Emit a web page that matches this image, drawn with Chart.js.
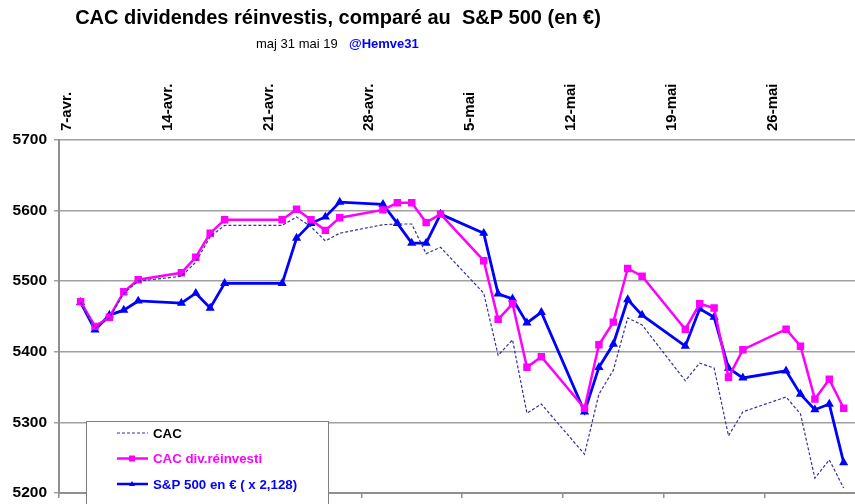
<!DOCTYPE html>
<html>
<head>
<meta charset="utf-8">
<script src="https://cdn.jsdelivr.net/npm/chart.js@4/dist/chart.umd.min.js"></script>
<style>
html,body{margin:0;background:#fff;overflow:hidden;width:855px;height:504px;}
canvas{display:block;}
</style>
</head>
<body>
<canvas id="c" width="862" height="504"></canvas>
<script>
// trading days (19 avr. missing in the sheet)
const dates=['2019-04-08','2019-04-09','2019-04-10','2019-04-11','2019-04-12',
  '2019-04-15','2019-04-16','2019-04-17','2019-04-18','2019-04-22',
  '2019-04-23','2019-04-24','2019-04-25','2019-04-26','2019-04-29',
  '2019-04-30','2019-05-01','2019-05-02','2019-05-03','2019-05-06',
  '2019-05-07','2019-05-08','2019-05-09','2019-05-10','2019-05-13',
  '2019-05-14','2019-05-15','2019-05-16','2019-05-17','2019-05-20',
  '2019-05-21','2019-05-22','2019-05-23','2019-05-24','2019-05-27',
  '2019-05-28','2019-05-29','2019-05-30','2019-05-31'];
const cac=[5470,5433,5448,5483,5500,5507,5527,5563,5579,5579,
  5591,5577,5557,5568,5580,5581,5581,5539,5548,5483,
  5395,5417,5313,5326,5255,5340,5374,5448,5438,5359,
  5384,5377,5281,5315,5336,5312,5221,5247,5207];
const cacDiv=[5471,5436,5449,5485,5502,5512,5534,5568,5587,5587,
  5602,5587,5572,5590,5601,5611,5611,5583,5595,5529,
  5446,5468,5378,5393,5320,5410,5442,5518,5507,5432,
  5468,5462,5364,5403,5432,5408,5333,5361,5320];
const spx=[5470,5431,5452,5459,5472,5469,5483,5462,5497,5497,
  5561,5582,5591,5612,5609,5582,5554,5554,5595,5568,
  5482,5475,5441,5456,5315,5378,5411,5474,5452,5408,
  5461,5449,5377,5363,5373,5340,5318,5326,5243];
const weekLabels=['7-avr.','14-avr.','21-avr.','28-avr.','5-mai','12-mai','19-mai','26-mai'];
const yTicks=[5200,5300,5400,5500,5600,5700];

const start=Date.UTC(2019,3,7);
const dayOf=s=>{const p=s.split('-');return (Date.UTC(+p[0],+p[1]-1,+p[2])-start)/86400000+0.5;};
const pts=vals=>vals.map((v,i)=>({x:dayOf(dates[i]),y:v}));
const weekTicks=weekLabels.map((l,i)=>({value:i*7}));

const FONT='"Liberation Sans", Arial, sans-serif';
const noPad=s=>{s.paddingLeft=0;s.paddingRight=0;s.paddingTop=0;s.paddingBottom=0;};

const deco={
  id:'deco',
  beforeDraw(chart){
    const c=chart.ctx;
    c.save();
    c.fillStyle='#fff';c.fillRect(0,0,chart.width,chart.height);
    c.fillStyle='#000';c.textBaseline='middle';c.textAlign='center';
    c.font='bold 20px '+FONT;
    c.fillText('CAC dividendes réinvestis, comparé au  S&P 500 (en €)',338,18);
    c.textAlign='left';
    c.font='13px '+FONT;
    c.fillText('maj 31 mai 19',256,44);
    c.fillStyle='#0000ff';c.font='bold 13px '+FONT;
    c.fillText('@Hemve31',349,44);
    c.restore();
  },
  afterDraw(chart){
    const c=chart.ctx;
    c.save();
    c.fillStyle='#fff';c.strokeStyle='#808080';c.lineWidth=1;
    c.fillRect(86.5,421.5,242,90);c.strokeRect(86.5,421.5,242,90);
    const items=[
      {t:'CAC',col:'#333399',txt:'#000',dash:[3,2],w:1.2,m:null},
      {t:'CAC div.réinvesti',col:'#ff00ff',txt:'#ff00ff',dash:[],w:2.5,m:'rect'},
      {t:'S&P 500 en € ( x 2,128)',col:'#0000ff',txt:'#0000ff',dash:[],w:2.5,m:'tri'}
    ];
    items.forEach((it,i)=>{
      const y=433+i*25.5;
      c.strokeStyle=it.col;c.lineWidth=it.w;c.setLineDash(it.dash);
      c.beginPath();c.moveTo(117,y);c.lineTo(148,y);c.stroke();
      c.setLineDash([]);c.fillStyle=it.col;
      if(it.m==='rect')c.fillRect(129,y-3,6,6);
      if(it.m==='tri'){c.beginPath();c.moveTo(132,y-3);c.lineTo(135,y+2);c.lineTo(129,y+2);c.closePath();c.fill();}
      c.fillStyle=it.txt;c.font='bold 13.3px '+FONT;c.textAlign='left';c.textBaseline='middle';
      c.fillText(it.t,153,y+1);
    });
    c.restore();
  }
};

new Chart(document.getElementById('c'),{
  type:'line',
  data:{datasets:[
    {label:'CAC',data:pts(cac),borderColor:'#333399',borderWidth:1.2,borderDash:[3,2],pointRadius:0,tension:0,xAxisID:'x',yAxisID:'y'},
    {label:'CAC div.réinvesti',data:pts(cacDiv),borderColor:'#ff00ff',backgroundColor:'#ff00ff',borderWidth:2.5,pointStyle:'rect',pointRadius:3.5,tension:0,xAxisID:'x',yAxisID:'y'},
    {label:'S&P 500 en € ( x 2,128)',data:pts(spx),borderColor:'#0000ff',backgroundColor:'#0000ff',borderWidth:2.8,pointStyle:'triangle',pointRadius:2.5,tension:0,xAxisID:'x',yAxisID:'y'}
  ]},
  options:{
    responsive:false,animation:false,
    layout:{padding:0},
    plugins:{legend:{display:false},title:{display:false},tooltip:{enabled:false}},
    scales:{
      x:{type:'linear',position:'bottom',min:0,max:55.3,
        afterBuildTicks:s=>{s.ticks=weekTicks.map(t=>({value:t.value}));},
        afterFit:s=>{s.height=11;noPad(s);},
        ticks:{display:false},
        grid:{drawOnChartArea:false,drawTicks:true,tickLength:5,color:'#909090',lineWidth:1.5},
        border:{display:true,color:'#909090',width:2}},
      xTop:{type:'linear',position:'top',min:0,max:55.3,
        afterBuildTicks:s=>{s.ticks=weekTicks.map(t=>({value:t.value}));},
        afterFit:s=>{s.height=140;noPad(s);},
        ticks:{callback:(v,i)=>weekLabels[i],minRotation:90,maxRotation:90,labelOffset:26,padding:9,color:'#000',font:{family:FONT,size:15,weight:'bold'}},
        grid:{display:false,drawTicks:false},border:{display:false}},
      y:{min:5200,max:5700,
        afterBuildTicks:s=>{s.ticks=yTicks.map(v=>({value:v}));},
        afterFit:s=>{s.width=59;noPad(s);},
        ticks:{callback:v=>String(v),color:'#000',padding:7,font:{family:FONT,size:15.5,weight:'bold'}},
        grid:{color:'#a0a0a0',lineWidth:1.5,tickLength:5},
        border:{color:'#909090',width:2}}
    }
  },
  plugins:[deco]
});
</script>
</body>
</html>
